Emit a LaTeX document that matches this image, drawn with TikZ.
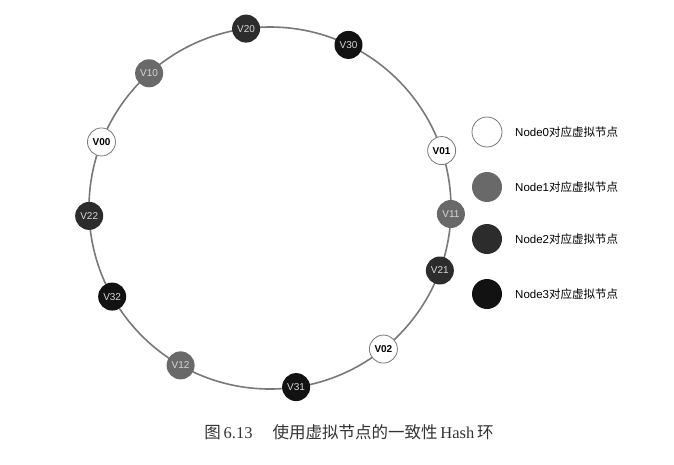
\documentclass[tikz,border=0pt]{standalone}
\usepackage{fontspec}
\setmainfont{Liberation Sans}
\newfontfamily\cjk{Noto Sans CJK SC}
\newfontfamily\capserif{Liberation Serif}
\usetikzlibrary{calc}
\definecolor{ringc}{RGB}{120,120,120}
\definecolor{c1}{RGB}{105,105,105}
\definecolor{c2}{RGB}{44,44,44}
\definecolor{c3}{RGB}{18,18,18}
\definecolor{lbl}{RGB}{215,215,215}
\tikzset{
  vn/.style={circle, minimum size=28pt, inner sep=0pt, font=\fontsize{10}{10}\selectfont},
  n0/.style={vn, draw=ringc, line width=0.8pt, fill=white, text=black, font=\fontsize{10}{10}\selectfont\bfseries},
  n1/.style={vn, fill=c1, text=lbl},
  n2/.style={vn, fill=c2, text=lbl},
  n3/.style={vn, fill=c3, text=lbl},
  ring/.style={draw=ringc, line width=1.6pt},
  lg/.style={circle, minimum size=30pt, inner sep=0pt},
  lgtext/.style={anchor=west, inner sep=0pt, font=\fontsize{11.5}{11.5}\selectfont}
}
\begin{document}
\begin{tikzpicture}[x=1pt,y=-1pt]
\useasboundingbox (0,0) rectangle (674,464);
\coordinate (c) at (270,208);
\draw[ring] (c) circle (181pt);
\node[n2] (v20) at ($(c)+(97.6:181pt)$) {V20};
\node[n3] (v30) at ($(c)+(64.3:181pt)$) {V30};
\node[n1] (v10) at ($(c)+(131.9:181pt)$) {V10};
\node[n0] (v00) at ($(c)+(158.6:181pt)$) {V00};
\node[n0] (v01) at ($(c)+(18.5:181pt)$) {V01};
\node[n1] (v11) at ($(c)+(-1.9:181pt)$) {V11};
\node[n2] (v22) at ($(c)+(182.5:181pt)$) {V22};
\node[n2] (v21) at ($(c)+(-20.2:181pt)$) {V21};
\node[n3] (v32) at ($(c)+(209.3:181pt)$) {V32};
\node[n0] (v02) at ($(c)+(-51.2:181pt)$) {V02};
\node[n1] (v12) at ($(c)+(240.4:181pt)$) {V12};
\node[n3] (v31) at ($(c)+(278.3:181pt)$) {V31};
% legend
\node[lg, draw=ringc, line width=0.8pt, fill=white] (l0) at (487,132) {};
\node[lg, fill=c1] (l1) at (487,187) {};
\node[lg, fill=c2] (l2) at (487,239) {};
\node[lg, fill=c3] (l3) at (487,294) {};
\node[lgtext] (t0) at (515,132) {Node0{\cjk 对应虚拟节点}};
\node[lgtext] (t1) at (515,187) {Node1{\cjk 对应虚拟节点}};
\node[lgtext] (t2) at (515,239) {Node2{\cjk 对应虚拟节点}};
\node[lgtext] (t3) at (515,294) {Node3{\cjk 对应虚拟节点}};
% caption
\node[inner sep=0pt, text=black!80, font=\fontsize{16.5}{16.5}\selectfont] (cap) at (349,432)
  {{\cjk 图}\,{\capserif 6.13}\hspace{20pt}{\cjk 使用虚拟节点的一致性}\,{\capserif Hash}\,{\cjk 环}};
\end{tikzpicture}
\end{document}
